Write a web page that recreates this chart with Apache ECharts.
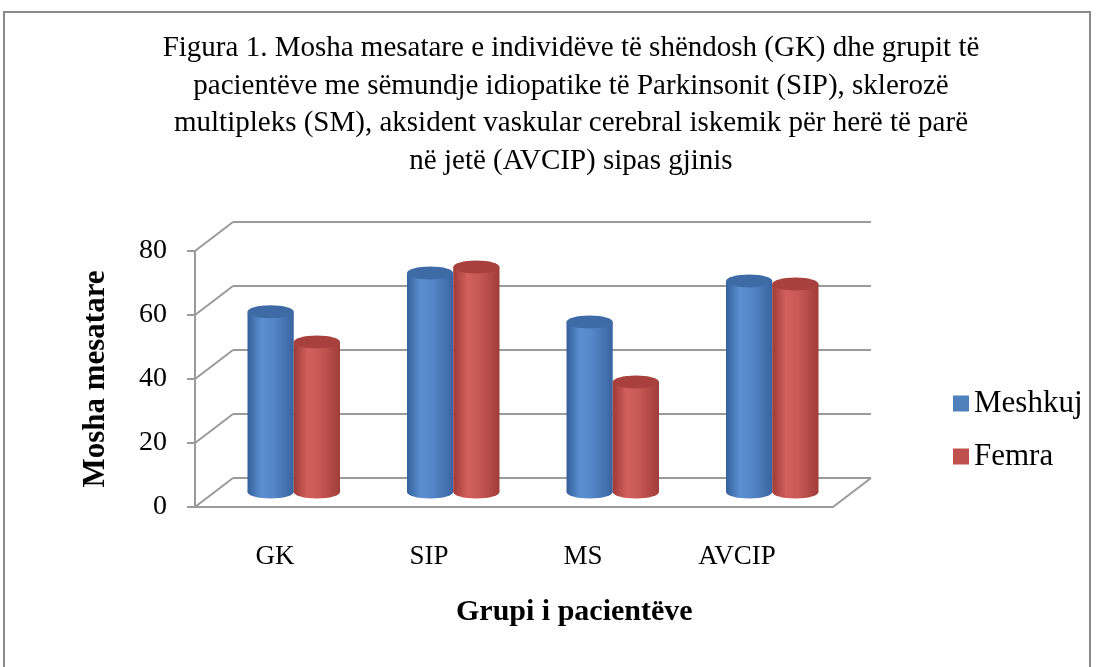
<!DOCTYPE html>
<html>
<head>
<meta charset="utf-8">
<script src="https://cdn.jsdelivr.net/npm/echarts@6/dist/echarts.min.js"></script>
<style>
  html, body { margin: 0; padding: 0; background: #fff; }
  #main { width: 1106px; height: 667px; }
</style>
</head>
<body>
<div id="main"></div>
<script>
var categories = ['GK', 'SIP', 'MS', 'AVCIP'];
var meshkuj = [56.3, 68.4, 53.1, 65.9];
var femra = [46.9, 70.3, 34.4, 65.0];
var yTicks = [0, 20, 40, 60, 80];

var serif = 'Liberation Serif, Times New Roman, serif';
var chartDom = document.getElementById('main');
var myChart = echarts.init(chartDom);

// depth of the 3d box (back wall offset)
var DX = 38, DY = -29;
var lineCol = '#9a9a9a';

function wallItem(params, api) {
  var band = api.size([1, 0])[0];
  var last = categories.length - 1;
  var x0 = api.coord([0, 0])[0] - band / 2;
  var x1 = api.coord([last, 0])[0] + band / 2;
  var kids = [];
  yTicks.forEach(function (v) {
    var y = api.coord([0, v])[1];
    kids.push({ type: 'line', shape: { x1: x0 + DX, y1: y + DY, x2: x1 + DX, y2: y + DY },
      style: { stroke: lineCol, lineWidth: 2 } });
    kids.push({ type: 'line', shape: { x1: x0, y1: y, x2: x0 + DX, y2: y + DY },
      style: { stroke: lineCol, lineWidth: 2 } });
  });
  var yb = api.coord([0, 0])[1];
  kids.push({ type: 'line', shape: { x1: x1, y1: yb, x2: x1 + DX, y2: yb + DY },
    style: { stroke: lineCol, lineWidth: 2 } });
  return { type: 'group', children: kids };
}

function cylinder(side, stops, topColor) {
  return function (params, api) {
    var cat = api.value(0);
    var top = api.coord([cat, api.value(1)]);
    var base = api.coord([cat, 0]);
    var band = api.size([1, 0])[0];
    var w = band * 0.29;
    var cx = top[0] + side * w / 2;
    var ry = 6.5;
    var grad = { type: 'linear', x: 0, y: 0, x2: 1, y2: 0, colorStops: stops };
    return {
      type: 'group',
      children: [
        { type: 'rect', shape: { x: cx - w / 2, y: top[1], width: w, height: base[1] - top[1] },
          style: { fill: grad } },
        { type: 'ellipse', shape: { cx: cx, cy: base[1], rx: w / 2, ry: ry },
          style: { fill: grad } },
        { type: 'ellipse', shape: { cx: cx, cy: top[1], rx: w / 2, ry: ry },
          style: { fill: topColor } }
      ]
    };
  };
}

var blueStops = [
  { offset: 0, color: '#35609a' },
  { offset: 0.3, color: '#5b8fd2' },
  { offset: 0.55, color: '#5587c8' },
  { offset: 1, color: '#3a64a0' }
];
var redStops = [
  { offset: 0, color: '#9e3b38' },
  { offset: 0.3, color: '#d25f5b' },
  { offset: 0.55, color: '#c95955' },
  { offset: 1, color: '#a03d3a' }
];

var option = {
  backgroundColor: '#fff',
  animation: false,
  textStyle: { fontFamily: serif },
  title: {
    text: 'Figura 1. Mosha mesatare e individëve të shëndosh (GK) dhe grupit të\n' +
      'pacientëve me sëmundje idiopatike të Parkinsonit (SIP), sklerozë\n' +
      'multipleks (SM), aksident vaskular cerebral iskemik për herë të parë\n' +
      'në jetë (AVCIP) sipas gjinis',
    left: 566,
    top: 25,
    textAlign: 'center',
    textStyle: { fontFamily: serif, fontSize: 29, fontWeight: 'normal', color: '#000', lineHeight: 37.5 }
  },
  legend: {
    orient: 'vertical',
    left: 948,
    top: 383,
    itemWidth: 16,
    itemHeight: 16,
    itemGap: 22,
    icon: 'rect',
    data: ['Meshkuj', 'Femra'],
    textStyle: { fontFamily: serif, fontSize: 31, color: '#000', padding: [0, 0, 0, 0] }
  },
  graphic: [
    { type: 'rect', z: -10, shape: { x: 4, y: 12, width: 1086, height: 680 },
      style: { fill: 'none', stroke: '#8a8a8a', lineWidth: 2 } },
    { type: 'text', left: 456, top: 597,
      style: { text: 'Grupi i pacientëve', font: 'bold 30px ' + serif, fill: '#000' } }
  ],
  grid: [
    { left: 195, top: 251, width: 638, height: 256 },
    { left: 198, top: 251, width: 616, height: 256 },
    { left: 214, top: 236, width: 638, height: 256 }
  ],
  xAxis: [
    { type: 'category', gridIndex: 0, data: categories,
      axisLine: { lineStyle: { color: lineCol, width: 2 } },
      axisTick: { show: false }, axisLabel: { show: false } },
    { type: 'category', gridIndex: 1, data: categories,
      axisLine: { show: false }, axisTick: { show: false },
      axisLabel: { fontFamily: serif, fontSize: 27, color: '#000', margin: 36 } },
    { type: 'category', gridIndex: 2, data: categories, show: false }
  ],
  yAxis: [
    { type: 'value', gridIndex: 0, min: 0, max: 80, interval: 20,
      name: 'Mosha mesatare', nameLocation: 'middle', nameGap: 84,
      nameTextStyle: { fontFamily: serif, fontSize: 31, fontWeight: 'bold', color: '#000' },
      axisLine: { show: true, lineStyle: { color: lineCol, width: 2 } },
      axisTick: { show: true, length: 8, lineStyle: { color: lineCol, width: 2 } },
      splitLine: { show: false },
      axisLabel: { fontFamily: serif, fontSize: 28, color: '#000', margin: 28 } },
    { type: 'value', gridIndex: 1, min: 0, max: 80, show: false },
    { type: 'value', gridIndex: 2, min: 0, max: 80, show: false }
  ],
  series: [
    { type: 'custom', name: 'walls', xAxisIndex: 0, yAxisIndex: 0, z: 1,
      renderItem: wallItem, data: [0], silent: true },
    { type: 'custom', name: 'Meshkuj', xAxisIndex: 2, yAxisIndex: 2, z: 5,
      itemStyle: { color: '#4f81bd' },
      renderItem: cylinder(-1, blueStops, '#3e6ba6'),
      encode: { x: 0, y: 1 },
      data: meshkuj.map(function (v, i) { return [i, v]; }) },
    { type: 'custom', name: 'Femra', xAxisIndex: 2, yAxisIndex: 2, z: 5,
      itemStyle: { color: '#c0504d' },
      renderItem: cylinder(1, redStops, '#a8413e'),
      encode: { x: 0, y: 1 },
      data: femra.map(function (v, i) { return [i, v]; }) }
  ]
};

option && myChart.setOption(option);
</script>
</body>
</html>
